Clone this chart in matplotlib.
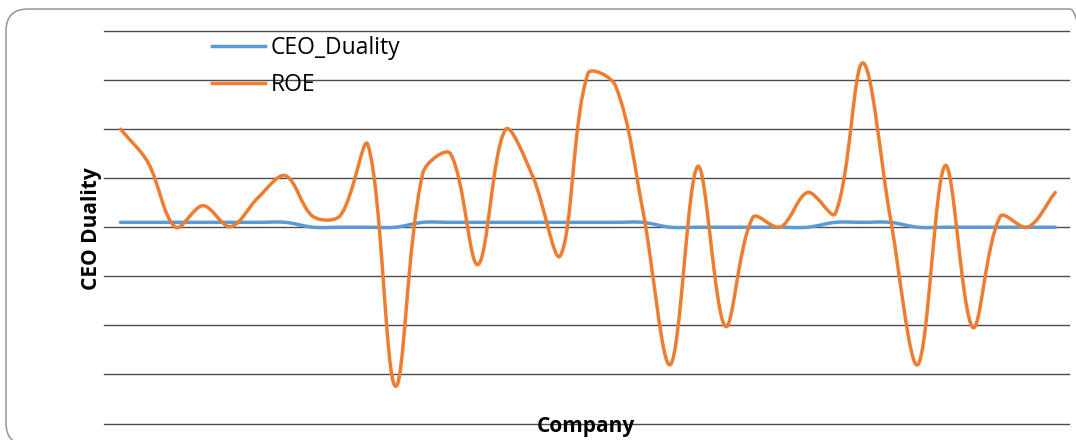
import numpy as np
import matplotlib
matplotlib.use("Agg")
import matplotlib.pyplot as plt
from matplotlib.path import Path
from matplotlib.patches import PathPatch, FancyBboxPatch
from matplotlib.lines import Line2D

plt.rcParams["font.family"] = ["Open Sans", "DejaVu Sans"]

# one point per company
companies = list(range(1, 36))
ceo_duality = [1, 1, 1, 1, 1, 1, 1, 0, 0, 0, 0, 1, 1, 1, 1, 1, 1, 1, 1, 1,
               0, 0, 0, 0, 0, 0, 1, 1, 1, 0, 0, 0, 0, 0, 0]
roe = [20.0, 13.2, 0.0, 4.4, 0.1, 6.0, 10.5, 2.2, 2.4, 16.8,
       -32.4, 11.1, 15.0, -7.6, 19.9, 10.3, -5.8, 31.3, 28.9, 3.4,
       -28.0, 12.4, -20.2, 2.0, 0.0, 7.1, 2.8, 33.5, 2.0, -28.0,
       12.6, -20.4, 2.2, 0.0, 7.1]

BLUE = "#5B9BD5"
ORANGE = "#ED7D31"
GRID = "#4d4d4d"


def smooth_path(ax, xs, ys):
    # Excel style smoothed line: bezier through every point, handle lengths
    # split by on-screen chord length so short segments do not overshoot
    data = np.column_stack([xs, ys]).astype(float)
    scr = ax.transData.transform(data)
    n = len(data)
    out_h = np.zeros_like(data)
    in_h = np.zeros_like(data)
    for i in range(n):
        a = data[max(i - 1, 0)]
        b = data[min(i + 1, n - 1)]
        d_prev = np.hypot(*(scr[i] - scr[max(i - 1, 0)]))
        d_next = np.hypot(*(scr[min(i + 1, n - 1)] - scr[i]))
        tot = d_prev + d_next
        if tot == 0:
            continue
        t = (b - a) / 3.0
        out_h[i] = t * d_next / tot
        in_h[i] = t * d_prev / tot
    verts = [data[0]]
    codes = [Path.MOVETO]
    for i in range(n - 1):
        verts += [data[i] + out_h[i], data[i + 1] - in_h[i + 1], data[i + 1]]
        codes += [Path.CURVE4] * 3
    return Path(verts, codes)


fig = plt.figure(figsize=(10.76, 4.40), dpi=100)

# rounded chart border, running off the right and bottom edges
border = FancyBboxPatch((6, -5), 1086, 431 + 5,
                        boxstyle="round,pad=0,rounding_size=22",
                        transform=None, facecolor="none",
                        edgecolor="#8c8c8c", linewidth=1.0)
fig.patches.append(border)

ax = fig.add_axes([104 / 1076, 0.0375, 965 / 1076, 0.89205])
ax.set_facecolor("none")
ax.set_xlim(-0.6, 34.5)
ax.set_ylim(-40, 40)

x = np.arange(len(companies))
for vals, color in [(ceo_duality, BLUE), (roe, ORANGE)]:
    ax.add_patch(PathPatch(smooth_path(ax, x, vals), facecolor="none",
                           edgecolor=color, linewidth=2.5,
                           capstyle="round", joinstyle="round", zorder=3))

ax.set_yticks(np.arange(-40, 41, 10))
ax.set_xticks([])
ax.tick_params(length=0, labelleft=False)
ax.yaxis.grid(True, color=GRID, linewidth=1.0)
for gl in ax.get_ygridlines():
    gl.set_clip_on(False)
for s in ax.spines.values():
    s.set_visible(False)

handles = [Line2D([], [], color=BLUE, lw=2.5), Line2D([], [], color=ORANGE, lw=2.5)]
leg = ax.legend(handles, ["CEO_Duality", "ROE"], loc="upper left",
                bbox_to_anchor=(212 / 1076, 1 - 36 / 440),
                bbox_transform=fig.transFigure, frameon=False,
                fontsize=16.5, handlelength=2.3, handletextpad=0.25,
                labelspacing=0.55, borderpad=0, borderaxespad=0)
leg.set_zorder(4)

fig.text(91 / 1076, 1 - 228.3 / 440, "CEO Duality", rotation=90,
         ha="center", va="center", fontsize=15, fontweight="bold")
fig.text(586 / 1076, 8.3 / 440, "Company", ha="center", va="baseline",
         fontsize=15, fontweight="bold")

fig.savefig("out.png", dpi=100)
